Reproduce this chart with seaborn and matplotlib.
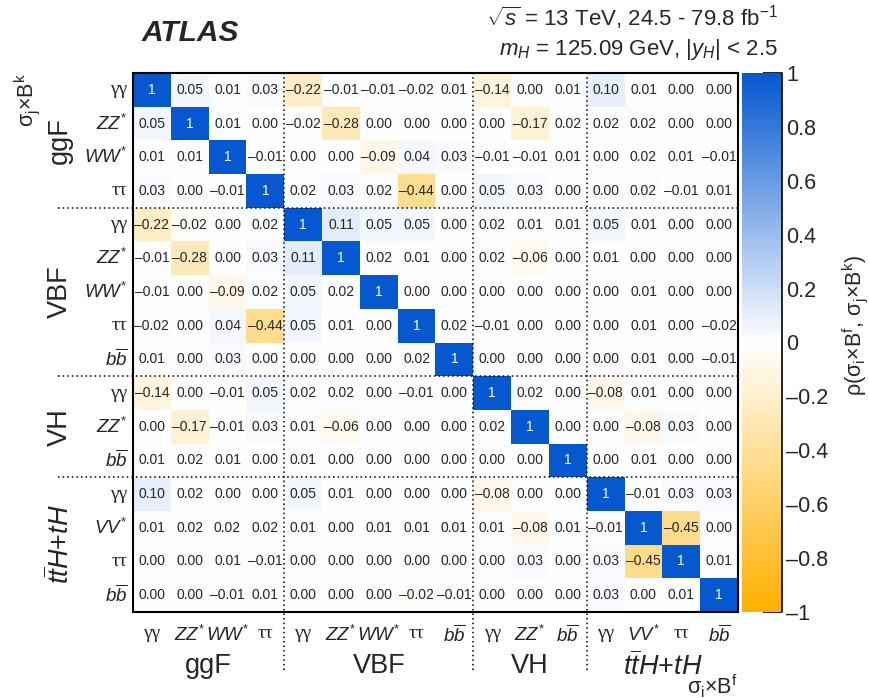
import numpy as np
import pandas as pd
import matplotlib
matplotlib.use("Agg")
import matplotlib.pyplot as plt
import matplotlib.transforms as mtrans
from matplotlib.colors import LinearSegmentedColormap
import seaborn as sns

# ---------------- data ----------------
proc_labels = ["γγ", "$ZZ^{*}$", "$WW^{*}$", "ττ",
               "γγ", "$ZZ^{*}$", "$WW^{*}$", "ττ", r"$b\overline{b}$",
               "γγ", "$ZZ^{*}$", r"$b\overline{b}$",
               "γγ", "$VV^{*}$", "ττ", r"$b\overline{b}$"]
group_names = ["ggF", "VBF", "VH", r"$t\overline{t}H{+}tH$"]
group_sizes = [4, 5, 3, 4]

rho = [
    [1, 0.05, 0.01, 0.03, -0.22, -0.01, -0.01, -0.02, 0.01, -0.14, 0.00, 0.01, 0.10, 0.01, 0.00, 0.00],
    [0.05, 1, 0.01, 0.00, -0.02, -0.28, 0.00, 0.00, 0.00, 0.00, -0.17, 0.02, 0.02, 0.02, 0.00, 0.00],
    [0.01, 0.01, 1, -0.01, 0.00, 0.00, -0.09, 0.04, 0.03, -0.01, -0.01, 0.01, 0.00, 0.02, 0.01, -0.01],
    [0.03, 0.00, -0.01, 1, 0.02, 0.03, 0.02, -0.44, 0.00, 0.05, 0.03, 0.00, 0.00, 0.02, -0.01, 0.01],
    [-0.22, -0.02, 0.00, 0.02, 1, 0.11, 0.05, 0.05, 0.00, 0.02, 0.01, 0.01, 0.05, 0.01, 0.00, 0.00],
    [-0.01, -0.28, 0.00, 0.03, 0.11, 1, 0.02, 0.01, 0.00, 0.02, -0.06, 0.00, 0.01, 0.00, 0.00, 0.00],
    [-0.01, 0.00, -0.09, 0.02, 0.05, 0.02, 1, 0.00, 0.00, 0.00, 0.00, 0.00, 0.00, 0.01, 0.00, 0.00],
    [-0.02, 0.00, 0.04, -0.44, 0.05, 0.01, 0.00, 1, 0.02, -0.01, 0.00, 0.00, 0.00, 0.01, 0.00, -0.02],
    [0.01, 0.00, 0.03, 0.00, 0.00, 0.00, 0.00, 0.02, 1, 0.00, 0.00, 0.00, 0.00, 0.01, 0.00, -0.01],
    [-0.14, 0.00, -0.01, 0.05, 0.02, 0.02, 0.00, -0.01, 0.00, 1, 0.02, 0.00, -0.08, 0.01, 0.00, 0.00],
    [0.00, -0.17, -0.01, 0.03, 0.01, -0.06, 0.00, 0.00, 0.00, 0.02, 1, 0.00, 0.00, -0.08, 0.03, 0.00],
    [0.01, 0.02, 0.01, 0.00, 0.01, 0.00, 0.00, 0.00, 0.00, 0.00, 0.00, 1, 0.00, 0.01, 0.00, 0.00],
    [0.10, 0.02, 0.00, 0.00, 0.05, 0.01, 0.00, 0.00, 0.00, -0.08, 0.00, 0.00, 1, -0.01, 0.03, 0.03],
    [0.01, 0.02, 0.02, 0.02, 0.01, 0.00, 0.01, 0.01, 0.01, 0.01, -0.08, 0.01, -0.01, 1, -0.45, 0.00],
    [0.00, 0.00, 0.01, -0.01, 0.00, 0.00, 0.00, 0.00, 0.00, 0.00, 0.03, 0.00, 0.03, -0.45, 1, 0.01],
    [0.00, 0.00, -0.01, 0.01, 0.00, 0.00, 0.00, -0.02, -0.01, 0.00, 0.00, 0.00, 0.03, 0.00, 0.01, 1],
]
cbar_ticks = [-1, -0.8, -0.6, -0.4, -0.2, 0, 0.2, 0.4, 0.6, 0.8, 1]

# ---------------- style ----------------
sns.set_theme(style="white")
plt.rcParams['font.family'] = ['Liberation Sans', 'DejaVu Sans']
plt.rcParams['mathtext.fontset'] = 'custom'
plt.rcParams['mathtext.rm'] = 'Liberation Sans'
plt.rcParams['mathtext.it'] = 'Liberation Sans:italic'
plt.rcParams['mathtext.bf'] = 'Liberation Sans:bold'


def fmt_val(v):
    if v == 1:
        return "1"
    return f"{v:.2f}".replace("-", "\u2013")


def fmt_tick(v):
    return f"{v:g}".replace("-", "\u2013")


mat = np.array(rho, dtype=float)
annot = np.array([[fmt_val(v) for v in row] for row in rho])
df = pd.DataFrame(mat)

cmap = LinearSegmentedColormap.from_list("atlas", ["#FFB000", "#FFFFFF", "#0558D0"])

W, H = 870, 698
fig = plt.figure(figsize=(W / 100, H / 100), dpi=100)
ax = fig.add_axes([133 / W, 1 - 612 / H, 605 / W, 539 / H])
cax = fig.add_axes([742 / W, 1 - 612 / H, 40 / W, 539 / H])

sns.heatmap(df, ax=ax, cbar_ax=cax, cmap=cmap, vmin=-1, vmax=1,
            annot=annot, fmt="", annot_kws={"size": 10},
            xticklabels=proc_labels, yticklabels=proc_labels)

ax.tick_params(axis='both', length=0, labelsize=13.5)
ax.tick_params(axis='x', pad=9)
ax.tick_params(axis='y', pad=4)
plt.setp(ax.get_xticklabels(), rotation=0)
plt.setp(ax.get_yticklabels(), rotation=0)
for lab in list(ax.get_xticklabels()) + list(ax.get_yticklabels()):
    if lab.get_text() in ("γγ", "ττ"):
        lab.set_fontfamily("Liberation Serif")
        lab.set_fontsize(14)
for s in ax.spines.values():
    s.set_visible(True)
    s.set_color("black")
    s.set_linewidth(1.5)

# group separators
bounds = np.cumsum(group_sizes)[:-1]
for b in bounds:
    ax.axhline(b, xmin=-(133 - 58) / 605, xmax=1, color="black", lw=1.1,
               ls=(0, (1, 2)), clip_on=False)
    ax.axvline(b, ymin=-(670 - 612) / 539, ymax=1, color="black", lw=1.1,
               ls=(0, (1, 2)), clip_on=False)

# group labels
starts = np.concatenate([[0], np.cumsum(group_sizes)[:-1]])
centers = starts + np.array(group_sizes) / 2
tr_left = mtrans.blended_transform_factory(ax.transAxes, ax.transData)
tr_bot = mtrans.blended_transform_factory(ax.transData, ax.transAxes)
for name, c in zip(group_names, centers):
    ax.text(-(133 - 60) / 605, c, name, transform=tr_left, rotation=90,
            ha="center", va="center", fontsize=19.5)
    ax.text(c, -(666 - 612) / 539, name, transform=tr_bot,
            ha="center", va="center", fontsize=19.5)

# colorbar
cbar = ax.collections[0].colorbar
cbar.set_ticks(cbar_ticks)
cbar.set_ticklabels([fmt_tick(t) for t in cbar_ticks])
cbar.outline.set_visible(False)
cax.tick_params(direction="in", length=14, width=1.2, color="black",
                labelsize=15.5, pad=3)
cax.plot([1, 1], [0, 1], transform=cax.transAxes, color="black", lw=1.2,
         clip_on=False)
cax.text((855 - 742) / 40, (612 - 325) / 539,
         "ρ(σ$_\\mathrm{i}$×B$^\\mathrm{f}$, σ$_\\mathrm{j}$×B$^\\mathrm{k}$)",
         transform=cax.transAxes, rotation=90, ha="center", va="center",
         fontsize=15.5)

# axis titles
fig.text(27 / W, 1 - 100 / H, "σ$_\\mathrm{j}$×B$^\\mathrm{k}$", rotation=90,
         ha="center", va="center", fontsize=15.5)
fig.text(712 / W, 1 - 686 / H, "σ$_\\mathrm{i}$×B$^\\mathrm{f}$",
         ha="center", va="center", fontsize=15.5)

# header texts
fig.text(142 / W, 1 - 33 / H, "ATLAS", fontsize=21.5, fontweight="bold",
         fontstyle="italic", ha="left", va="center")
fig.text(778 / W, 1 - 18 / H, r"$\sqrt{s}$ = 13 TeV, 24.5 - 79.8 fb$^{-1}$",
         fontsize=16, ha="right", va="center")
fig.text(778 / W, 1 - 50 / H, r"$m_{H}$ = 125.09 GeV, |$y_{H}$| < 2.5",
         fontsize=16, ha="right", va="center")

fig.savefig("out.png", dpi=100)
